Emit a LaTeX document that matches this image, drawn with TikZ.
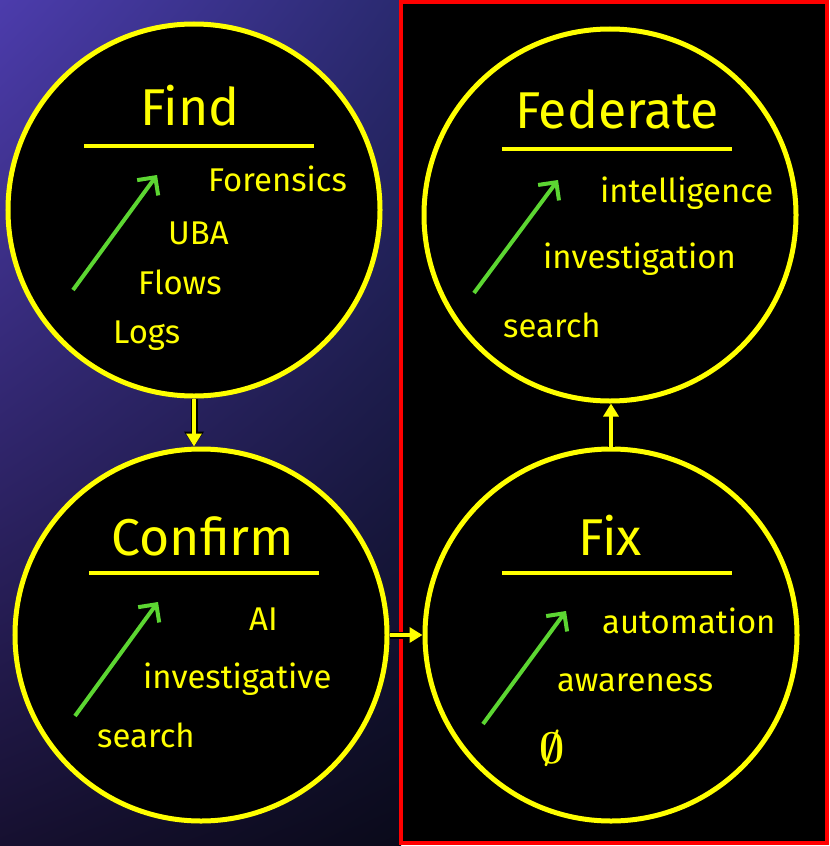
\documentclass[tikz,border=0pt]{standalone}
\usepackage{fontspec}
\setmainfont{Fira Sans}
\usepackage{tikz}
\usetikzlibrary{arrows.meta, positioning, calc, shadings}
\definecolor{slideyellow}{RGB}{255,255,0}
\definecolor{trendgreen}{RGB}{92,214,50}
\definecolor{bgtl}{RGB}{76,60,172}
\definecolor{bgtr}{RGB}{42,42,112}
\definecolor{bgbl}{RGB}{22,16,48}
\definecolor{bgbr}{RGB}{10,10,26}
\tikzstyle{phase} = [circle, draw=slideyellow, fill=black,
line width=5bp, minimum size=372bp, inner sep=0pt]
\tikzstyle{phasetitle} = [text=slideyellow, anchor=base, inner sep=0pt,
font=\fontsize{52}{56}\selectfont]
\tikzstyle{phaseitem} = [text=slideyellow, anchor=base west, inner sep=0pt,
font=\fontsize{33}{36}\selectfont]
\tikzstyle{phaserule} = [draw=slideyellow, line width=4bp]
\tikzstyle{trend} = [draw=trendgreen, line width=4bp,
-{Straight Barb[length=13bp, width=26bp]}]
\tikzstyle{flow} = [draw=slideyellow, line width=4bp,
-{Triangle[length=13bp, width=15bp]},
preaction={draw=black, line width=7bp, -{Triangle[length=15bp, width=19bp]}}]

\begin{document}
\begin{tikzpicture}[x=1bp, y=-1bp]
\useasboundingbox (0,0) rectangle (830,846);
\shade[upper left=bgtl, upper right=bgtr, lower left=bgbl, lower right=bgbr]
  (0,0) rectangle (401,846);
\draw[red, fill=black, line width=4bp] (401,2) rectangle (827,843);

% the four phases
\node (find) [phase] at (194,210) {};
\node (confirm) [phase] at (201,635) {};
\node (federate) [phase] at (610,215) {};
\node (fix) [phase] at (611,635) {};

\node (findtitle) [phasetitle] at (190,125) {Find};
\node (confirmtitle) [phasetitle] at (203,555) {Confirm};
\node (federatetitle) [phasetitle] at (617,128) {Federate};
\node (fixtitle) [phasetitle] at (610,555) {Fix};

\draw[phaserule] (84,146) -- (314,146);
\draw[phaserule] (89,573) -- (319,573);
\draw[phaserule] (502,149) -- (732,149);
\draw[phaserule] (502,573) -- (732,573);

\draw[trend] (73,290) -- (157,175);
\draw[trend] (75,716) -- (158,602);
\draw[trend] (474,293) -- (558,180);
\draw[trend] (483,724) -- (566,611);

\node (forensics) [phaseitem] at (208,191) {Forensics};
\node (uba) [phaseitem] at (168,244) {UBA};
\node (flows) [phaseitem] at (138,294) {Flows};
\node (logs) [phaseitem] at (113,343) {Logs};

\node (ai) [phaseitem] at (249,630) {AI};
\node (investigative) [phaseitem] at (143,688) {investigative};
\node (csearch) [phaseitem] at (97,747) {search};

\node (intelligence) [phaseitem] at (600,202) {intelligence};
\node (investigation) [phaseitem] at (543,268) {investigation};
\node (fsearch) [phaseitem] at (503,337) {search};

\node (automation) [phaseitem] at (602,633) {automation};
\node (awareness) [phaseitem] at (557,691) {awareness};
\node (empty) [text=slideyellow, inner sep=0pt] at (552,748)
  {\scalebox{4.4}{\boldmath$\emptyset$}};

\draw[flow] (find.south) -- (find.south |- confirm.north);
\draw[flow] (confirm.east) -- (fix.west);
\draw[flow] (fix.north) -- (fix.north |- federate.south);
\end{tikzpicture}
\end{document}
